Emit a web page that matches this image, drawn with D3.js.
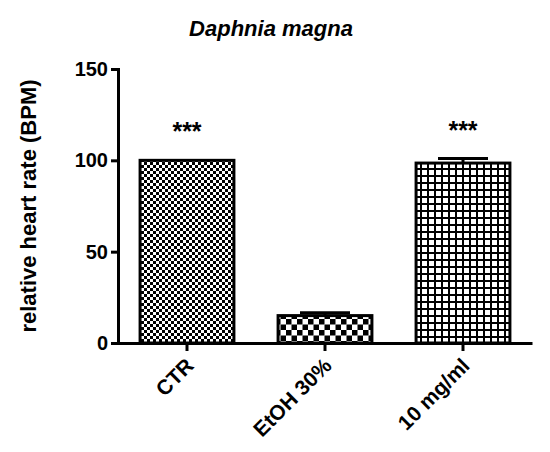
<!DOCTYPE html>
<html>
<head>
<meta charset="utf-8">
<script src="https://cdn.jsdelivr.net/npm/d3@7"></script>
<style>
  body { margin: 0; background: #fff; }
  text { font-family: "Liberation Sans", Arial, sans-serif; font-weight: bold; }
</style>
</head>
<body>
<svg width="550" height="452"></svg>
<script>
const categories = ['CTR', 'EtOH 30%', '10 mg/ml'];
const means = [100, 15, 98.5];
const errors = [0, 1.5, 2.5];
const stars = ['***', '', '***'];
const yTicks = [0, 50, 100, 150];
const patterns = ['checkFine', 'checkCoarse', 'grid'];

const svg = d3.select('svg');
const margin = {left: 118, right: 18, top: 69, bottom: 109};
const width = 550, height = 452;

const x = d3.scaleBand()
    .domain(categories)
    .range([margin.left, width - margin.right])
    .paddingInner(0.32)
    .paddingOuter(0.16);
const y = d3.scaleLinear()
    .domain([0, 150])
    .range([height - margin.bottom, margin.top]);

// fill patterns
const defs = svg.append('defs');
const fine = defs.append('pattern').attr('id', 'checkFine')
    .attr('patternUnits', 'userSpaceOnUse').attr('width', 6).attr('height', 6);
fine.append('rect').attr('width', 6).attr('height', 6).attr('fill', '#fff');
fine.append('rect').attr('width', 3).attr('height', 3).attr('fill', '#000');
fine.append('rect').attr('x', 3).attr('y', 3).attr('width', 3).attr('height', 3).attr('fill', '#000');

const coarse = defs.append('pattern').attr('id', 'checkCoarse')
    .attr('patternUnits', 'userSpaceOnUse').attr('width', 11).attr('height', 11);
coarse.append('rect').attr('width', 11).attr('height', 11).attr('fill', '#fff');
coarse.append('rect').attr('width', 5.5).attr('height', 5.5).attr('fill', '#000');
coarse.append('rect').attr('x', 5.5).attr('y', 5.5).attr('width', 5.5).attr('height', 5.5).attr('fill', '#000');

const grid = defs.append('pattern').attr('id', 'grid')
    .attr('patternUnits', 'userSpaceOnUse').attr('width', 7).attr('height', 7);
grid.append('rect').attr('width', 7).attr('height', 7).attr('fill', '#000');
grid.append('rect').attr('x', 2).attr('y', 2).attr('width', 5).attr('height', 5).attr('fill', '#fff');

// error bars (drawn behind bars)
const cap = 50;
categories.forEach((c, i) => {
  if (!errors[i]) return;
  const cx = x(c) + x.bandwidth() / 2;
  svg.append('line')
      .attr('x1', cx).attr('x2', cx)
      .attr('y1', y(means[i])).attr('y2', y(means[i] + errors[i]))
      .attr('stroke', '#000').attr('stroke-width', 3);
  svg.append('line')
      .attr('x1', cx - cap / 2).attr('x2', cx + cap / 2)
      .attr('y1', y(means[i] + errors[i])).attr('y2', y(means[i] + errors[i]))
      .attr('stroke', '#000').attr('stroke-width', 3);
});

// bars
svg.selectAll('.bar')
    .data(categories)
    .enter().append('rect')
    .attr('class', 'bar')
    .attr('x', d => x(d))
    .attr('y', (d, i) => y(means[i]))
    .attr('width', x.bandwidth())
    .attr('height', (d, i) => y(0) - y(means[i]))
    .attr('fill', (d, i) => `url(#${patterns[i]})`)
    .attr('stroke', '#000')
    .attr('stroke-width', 3);

// significance stars
svg.selectAll('.star')
    .data(categories)
    .enter().append('text')
    .attr('class', 'star')
    .attr('x', d => x(d) + x.bandwidth() / 2)
    .attr('y', (d, i) => y(means[i] + errors[i]) - 20)
    .attr('text-anchor', 'middle')
    .style('font-size', '25px')
    .text((d, i) => stars[i]);

// axes
const yAxis = svg.append('g')
    .attr('transform', `translate(${margin.left},0)`)
    .call(d3.axisLeft(y).tickValues(yTicks).tickSize(7).tickPadding(3));
const xAxis = svg.append('g')
    .attr('transform', `translate(0,${y(0)})`)
    .call(d3.axisBottom(x).tickSize(8).tickSizeOuter(0).tickFormat(() => ''));

[yAxis, xAxis].forEach(a => {
  a.select('.domain').attr('stroke-width', 3);
  a.selectAll('.tick line').attr('stroke-width', 3);
});
yAxis.selectAll('.tick text').style('font-size', '20px').attr('fill', '#000');

svg.selectAll('.xlab')
    .data(categories)
    .enter().append('text')
    .attr('class', 'xlab')
    .attr('transform', d => `translate(${x(d) + x.bandwidth() / 2 + 8},${y(0) + 24}) rotate(-45)`)
    .attr('text-anchor', 'end')
    .style('font-size', '21px')
    .text(d => d);

// titles
svg.append('text')
    .attr('x', 271).attr('y', 36)
    .attr('text-anchor', 'middle')
    .style('font-size', '22px')
    .style('font-style', 'italic')
    .text('Daphnia magna');

svg.append('text')
    .attr('transform', `translate(36,${(y(0) + y(150)) / 2}) rotate(-90)`)
    .attr('text-anchor', 'middle')
    .style('font-size', '22px')
    .text('relative heart rate (BPM)');
</script>
</body>
</html>
